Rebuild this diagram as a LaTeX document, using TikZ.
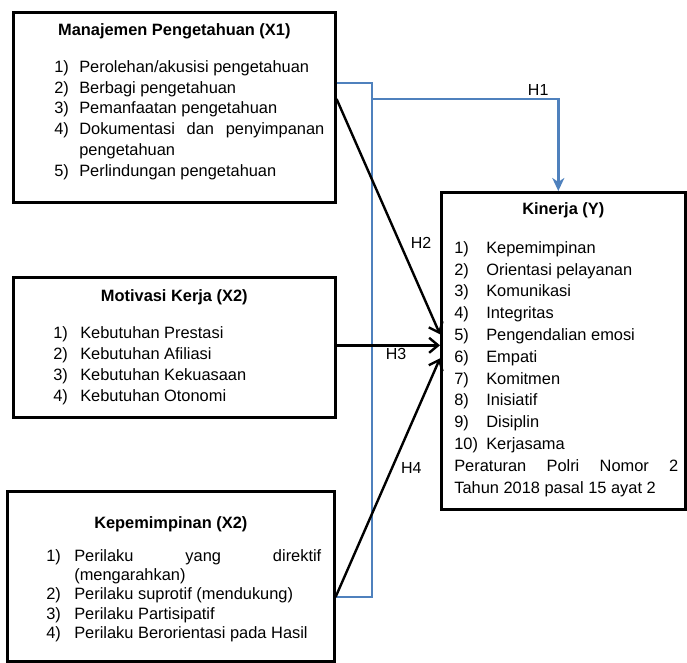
\documentclass[tikz,border=0pt]{standalone}
\usepackage{fontspec}
\setmainfont{Liberation Sans}
\usetikzlibrary{arrows.meta,positioning,calc}
\definecolor{hblue}{RGB}{79,129,189}
\newlength\numw
\newcommand\kset[3]{\leftskip=#1\rightskip=#2\setlength\numw{#3}\tolerance=10000\hbadness=10000}
\newcommand\ktitle[1]{{\leftskip=0pt plus 1fil\rightskip=0pt plus 1fil\parfillskip=0pt\noindent\bfseries #1\par}}
\newcommand\kitem[2]{\par\hangindent=\numw\hangafter=1\noindent\makebox[\numw][l]{#1}#2}

\begin{document}
\begin{tikzpicture}[x=1pt,y=-1pt,>={Straight Barb[length=9pt,width=15pt]},
  vbox/.style={draw,line width=2.6pt,anchor=north west,inner sep=0pt,align=justify},
  hline/.style={draw=hblue,line width=2.6pt},
  arr/.style={->,line width=2.4pt},
  lbl/.style={inner sep=2pt,font=\fontsize{16}{19}\selectfont}]
  \useasboundingbox (0,0) rectangle (687,662);
  \node[vbox,text width=322pt,text height=23pt,text depth=167pt,
    font=\fontsize{16.4}{20.8}\selectfont] (x1) at (12,11) {%
    \ktitle{Manajemen Pengetahuan (X1)}\kset{41pt}{11pt}{25pt}\vspace{16.2pt}
    \kitem{1)}{Perolehan/akusisi pengetahuan}
    \kitem{2)}{Berbagi pengetahuan}
    \kitem{3)}{Pemanfaatan pengetahuan}
    \kitem{4)}{Dokumentasi dan penyimpanan\linebreak pengetahuan}
    \kitem{5)}{Perlindungan pengetahuan}\par};
  \node[vbox,text width=322pt,text height=24pt,text depth=116pt,
    font=\fontsize{16.4}{21.2}\selectfont] (x2) at (12,276) {%
    \ktitle{Motivasi Kerja (X2)}\kset{40pt}{11pt}{27pt}\vspace{15.8pt}
    \kitem{1)}{Kebutuhan Prestasi}
    \kitem{2)}{Kebutuhan Afiliasi}
    \kitem{3)}{Kebutuhan Kekuasaan}
    \kitem{4)}{Kebutuhan Otonomi}\par};
  \node[vbox,text width=327pt,text height=37pt,text depth=133pt,
    font=\fontsize{16.4}{19.25}\selectfont] (x3) at (6,490) {%
    \ktitle{Kepemimpinan (X2)}\kset{39pt}{13pt}{28pt}\vspace{13.75pt}
    \kitem{1)}{Perilaku yang direktif\linebreak (mengarahkan)}
    \kitem{2)}{Perilaku suprotif (mendukung)}
    \kitem{3)}{Perilaku Partisipatif}
    \kitem{4)}{Perilaku Berorientasi pada Hasil}\par};
  \node[vbox,text width=244pt,text height=22pt,text depth=295pt,
    font=\fontsize{16.4}{21.8}\selectfont] (ky) at (440,191) {%
    \ktitle{Kinerja (Y)}\kset{13pt}{7pt}{32pt}\vspace{17.2pt}
    \kitem{1)}{Kepemimpinan}
    \kitem{2)}{Orientasi pelayanan}
    \kitem{3)}{Komunikasi}
    \kitem{4)}{Integritas}
    \kitem{5)}{Pengendalian emosi}
    \kitem{6)}{Empati}
    \kitem{7)}{Komitmen}
    \kitem{8)}{Inisiatif}
    \kitem{9)}{Disiplin}
    \kitem{10)}{Kerjasama}
    \par\noindent Peraturan Polri Nomor 2\linebreak Tahun 2018 pasal 15 ayat 2\par};
  \coordinate (top) at (372,83);
  \coordinate (split) at (372,99);
  \coordinate (bend) at (372,597);
  \draw[hline] (x1.east |- top) -- (top) -- (bend) -- (x3.east |- bend);
  \draw[hline,-{Stealth[length=13pt,width=12pt,inset=4pt]}] (split) -| node[lbl,pos=.446,above] (h1) {H1} ([xshift=-5pt]ky.north);
  \draw[arr] (x1.east |- split) -- node[lbl,pos=.61,right=8pt] (h2) {H2} ([yshift=16.5pt]ky.west);
  \draw[arr] ([yshift=2pt]x2.east) -- node[lbl,pos=.575,below] (h3) {H3} ([yshift=5.5pt]ky.west);
  \draw[arr] (x3.east |- bend) -- node[lbl,pos=.54,right=6pt] (h4) {H4} ([yshift=-7.5pt]ky.west);
\end{tikzpicture}
\end{document}
